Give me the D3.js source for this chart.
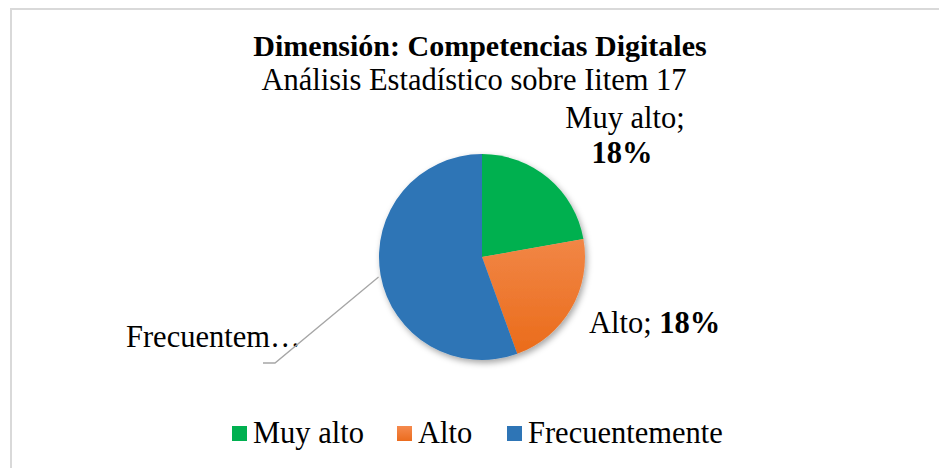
<!DOCTYPE html>
<html>
<head>
<meta charset="utf-8">
<script src="https://cdn.jsdelivr.net/npm/d3@7"></script>
<style>
  body { margin: 0; background: #fff; }
  svg { display: block; font-family: "Liberation Serif", "Times New Roman", serif; }
</style>
</head>
<body>
<div id="chart"></div>
<script>
// data
const categories = ['Muy alto', 'Alto', 'Frecuentemente'];
const values = [4, 4, 10];
const pctLabels = ['18%', '18%', ''];
const colors = ['#00B050', '#F07A30', '#2E75B6'];

const width = 939, height = 468;
const cx = 482, cy = 257, r = 103;
const fs = 30.5;

const svg = d3.select('#chart').append('svg')
    .attr('width', width)
    .attr('height', height);

// chart area border (runs off the right / bottom edge)
svg.append('rect')
    .attr('x', 11).attr('y', 9)
    .attr('width', 960).attr('height', 480)
    .attr('fill', 'none')
    .attr('stroke', '#d9d9d9')
    .attr('stroke-width', 2);

const defs = svg.append('defs');
defs.append('filter').attr('id', 'shadow')
    .attr('x', '-20%').attr('y', '-20%').attr('width', '140%').attr('height', '140%')
    .append('feDropShadow')
    .attr('dx', 2).attr('dy', 3).attr('stdDeviation', 3)
    .attr('flood-color', '#000').attr('flood-opacity', 0.35);

// orange slice gradient, in the pie group's coords
const grad = defs.append('linearGradient').attr('id', 'orangeGrad')
    .attr('gradientUnits', 'userSpaceOnUse')
    .attr('x1', 0).attr('y1', -r).attr('x2', 0).attr('y2', r);
grad.append('stop').attr('offset', '0%').attr('stop-color', '#F69A66');
grad.append('stop').attr('offset', '100%').attr('stop-color', '#EA6A18');

const legGrad = defs.append('linearGradient').attr('id', 'orangeLeg')
    .attr('x1', 0).attr('y1', 0).attr('x2', 0).attr('y2', 1);
legGrad.append('stop').attr('offset', '0%').attr('stop-color', '#F58A4E');
legGrad.append('stop').attr('offset', '100%').attr('stop-color', '#EB6C1E');

// titles
svg.append('text')
    .attr('x', 480).attr('y', 56)
    .attr('text-anchor', 'middle')
    .attr('font-size', 30).attr('font-weight', 'bold')
    .text('Dimensión: Competencias Digitales');
svg.append('text')
    .attr('x', 474).attr('y', 90)
    .attr('text-anchor', 'middle')
    .attr('font-size', fs)
    .text('Análisis Estadístico sobre Iitem 17');

// pie
const pie = d3.pie().sort(null).value(d => d);
const arcs = pie(values);
const arc = d3.arc().innerRadius(0).outerRadius(r);

const g = svg.append('g').attr('transform', `translate(${cx},${cy})`);
g.append('g').attr('filter', 'url(#shadow)')
  .selectAll('path')
  .data(arcs)
  .join('path')
    .attr('d', arc)
    .attr('fill', (d, i) => i === 1 ? 'url(#orangeGrad)' : colors[i]);

// data labels
const lbl = svg.append('g').attr('font-size', fs);
const t0 = lbl.append('text').attr('text-anchor', 'middle');
t0.append('tspan').attr('x', 625).attr('y', 128).text(categories[0] + ';');
t0.append('tspan').attr('x', 622).attr('y', 163).attr('font-weight', 'bold').text(pctLabels[0]);

const t1 = lbl.append('text').attr('x', 589).attr('y', 333);
t1.append('tspan').text(categories[1] + '; ');
t1.append('tspan').attr('font-weight', 'bold').text(pctLabels[1]);

lbl.append('text').attr('x', 126).attr('y', 347)
    .text(categories[2].slice(0, 10) + '…');

// leader line for the blue slice
const edge = d3.arc().innerRadius(r).outerRadius(r).centroid(arcs[2]);
svg.append('polyline')
    .attr('points', [[cx + edge[0] - 2, cy + edge[1] + 2], [275, 363], [263, 363]].map(p => p.join(',')).join(' '))
    .attr('fill', 'none')
    .attr('stroke', '#a6a6a6')
    .attr('stroke-width', 1.3);

// legend
const legX = [232, 397, 507];
const leg = svg.append('g').selectAll('g')
  .data(categories)
  .join('g')
    .attr('transform', (d, i) => `translate(${legX[i]},426)`);
leg.append('rect')
    .attr('width', 15).attr('height', 15)
    .attr('fill', (d, i) => i === 1 ? 'url(#orangeLeg)' : colors[i]);
leg.append('text')
    .attr('x', 21).attr('y', 17)
    .attr('font-size', fs)
    .text(d => d);
</script>
</body>
</html>
